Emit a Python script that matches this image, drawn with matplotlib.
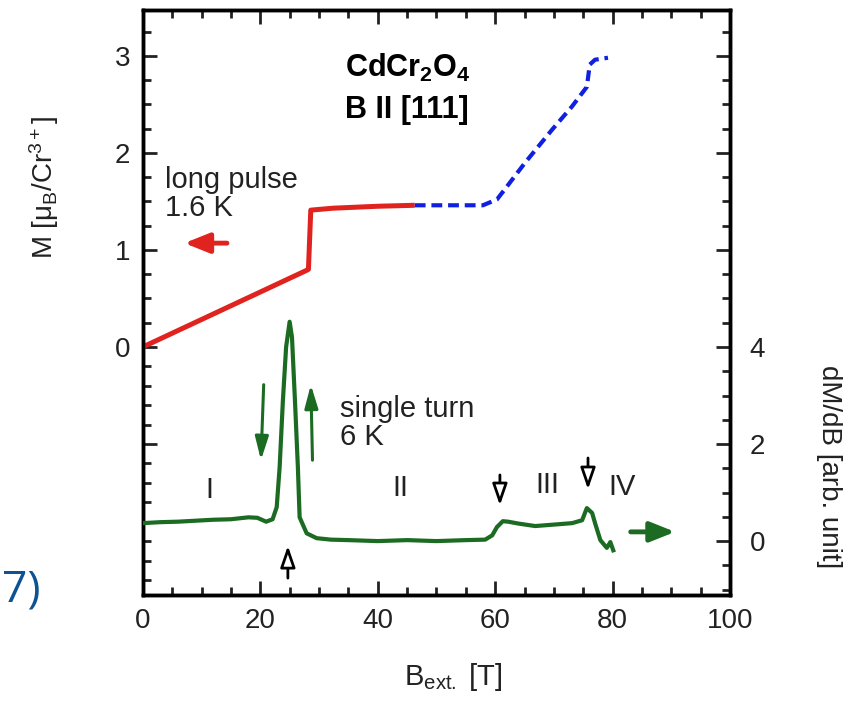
import matplotlib
matplotlib.use('Agg')
import matplotlib.pyplot as plt
from matplotlib.ticker import FixedLocator, FuncFormatter

plt.rcParams['font.family'] = ['Liberation Sans', 'DejaVu Sans']
plt.rcParams['mathtext.fontset'] = 'custom'
plt.rcParams['mathtext.rm'] = 'Liberation Sans'
plt.rcParams['mathtext.it'] = 'Liberation Sans:italic'
plt.rcParams['mathtext.bf'] = 'Liberation Sans:bold'
plt.rcParams['mathtext.default'] = 'regular'

# long pulse M(B), left axis
red_B = [0, 27.9, 28.2, 28.6, 32.4, 40, 46.3]
red_M = [0, 0.79, 0.80, 1.41, 1.43, 1.45, 1.46]

# extrapolated part (dashed)
blue_B = [46.3, 52, 57.9, 60.3, 61.7, 65.1, 69.7, 73.1, 75.6, 76.1, 77.0, 79.2]
blue_M = [1.46, 1.46, 1.46, 1.52, 1.63, 1.90, 2.24, 2.48, 2.68, 2.91, 2.96, 2.98]

# single turn dM/dB, right axis
green_B = [0, 3, 6, 9, 12, 15, 18, 19.5, 21, 22.1, 22.8, 23.3, 23.85, 24.4, 25.0,
           25.4, 25.9, 26.4, 26.7, 27.9, 29.6, 32, 35, 40, 45, 50, 55, 58.3, 59.5,
           60.3, 61.3, 62.2, 64, 66.8, 70, 73.1, 74.8, 75.6, 76.5, 77.0, 77.9, 79.0,
           79.6, 80.1]
green_R = [0.37, 0.39, 0.40, 0.42, 0.44, 0.45, 0.49, 0.48, 0.40, 0.45, 0.70, 1.53, 2.89,
           4.0, 4.52, 4.2, 2.91, 1.53, 0.49, 0.16, 0.06, 0.03, 0.02, 0.0, 0.02, 0.0,
           0.02, 0.03, 0.12, 0.29, 0.41, 0.40, 0.36, 0.31, 0.34, 0.37, 0.43, 0.68,
           0.58, 0.37, 0.02, -0.14, -0.02, -0.19]

x_major = [0, 20, 40, 60, 80, 100]
m_major = [-1, 0, 1, 2, 3]
m_minor = [-2.4, -2.2, -2.0, -1.8, -1.6, -1.4, -1.2, -0.8, -0.6, -0.4, -0.2,
           0.25, 0.5, 0.75, 1.25, 1.5, 1.75, 2.25, 2.5, 2.75, 3.25]
r_major = [0, 2, 4, 6, 8, 10]
r_minor = [-1, -0.5, 0.5, 1, 1.5, 2.5, 3, 3.5, 4.5, 5, 5.5, 6.5, 7, 7.5, 8.5, 9, 9.5, 10.5]

RED = '#e0231e'
BLUE = '#1020e0'
GREEN = '#1c6b22'
TXT = '#222222'

fig = plt.figure(figsize=(8.5, 7.01), dpi=100)
ax = fig.add_axes([0.168, 0.151, 0.691, 0.835])
ax2 = ax.twinx()

ax.plot(red_B, red_M, color=RED, lw=3.6, solid_capstyle='butt', zorder=3)
ax.plot(blue_B, blue_M, color=BLUE, lw=3.0, dashes=(2.6, 1.4), zorder=3)
ax2.plot(green_B, green_R, color=GREEN, lw=3.0, zorder=3)

ax.set_xlim(0, 100)
ax.set_ylim(-2.557, 3.474)
ax2.set_ylim(4 + 2 * -2.557, 4 + 2 * 3.474)

ax.xaxis.set_major_locator(FixedLocator(x_major))
ax.xaxis.set_minor_locator(FixedLocator(range(0, 101, 5)))
ax.yaxis.set_major_locator(FixedLocator(m_major))
ax.yaxis.set_minor_locator(FixedLocator(m_minor))
ax.yaxis.set_major_formatter(FuncFormatter(lambda v, p: '' if v < 0 else '%d' % v))
ax2.yaxis.set_major_locator(FixedLocator(r_major))
ax2.yaxis.set_minor_locator(FixedLocator(r_minor))
ax2.yaxis.set_major_formatter(FuncFormatter(lambda v, p: '' if v > 4 else '%d' % v))

ax.tick_params(which='both', direction='in', top=True, right=False, width=2,
               labelsize=20, colors=TXT)
ax.tick_params(which='major', length=10)
ax.tick_params(which='minor', length=5.5)
ax.tick_params(axis='x', pad=9)
ax.tick_params(axis='y', pad=9)
ax2.tick_params(which='both', direction='in', width=2, labelsize=20, colors=TXT, pad=14)
ax2.tick_params(which='major', length=10)
ax2.tick_params(which='minor', length=5.5)
for a in (ax, ax2):
    for s in a.spines.values():
        s.set_linewidth(2.5)

# axis labels
fig.text(453 / 850, 1 - 677 / 701, 'B$_{ext.}$ [T]', fontsize=21, color=TXT,
         ha='center', va='center')
fig.text(44 / 850, 1 - 188 / 701, 'M [μ$_B$/Cr$^{3+}$]', fontsize=20, color=TXT,
         ha='center', va='center', rotation=90)
fig.text(829 / 850, 1 - 467 / 701, 'dM/dB [arb. unit]', fontsize=20, color=TXT,
         ha='center', va='center', rotation=270)

# texts
ax.text(34.4, 2.88, r'$\mathbf{CdCr_2O_4}$', fontsize=22, va='center', ha='left')
ax.text(34.4, 2.44, 'B II [111]', fontsize=22, fontweight='bold', va='center', ha='left')
ax.text(3.75, 1.58, 'long pulse\n1.6 K', fontsize=21, va='center', ha='left',
        linespacing=1.0, color=TXT)
ax2.text(33.6, 2.43, 'single turn\n6 K', fontsize=21, va='center', ha='left',
         linespacing=1.0, color=TXT)
for lab, bx, ry in [('I', 11.4, 1.05), ('II', 43.8, 1.09), ('III', 68.8, 1.15), ('IV', 81.6, 1.11)]:
    ax2.text(bx, ry, lab, fontsize=21, ha='center', va='center', color=TXT)

# arrows
ax.annotate('', xy=(6.6, 1.07), xytext=(14.8, 1.07),
            arrowprops=dict(arrowstyle='-|>,head_length=1.5,head_width=0.6',
                            color=RED, lw=3.5))
ax2.annotate('', xy=(91.1, 0.19), xytext=(82.6, 0.19),
             arrowprops=dict(arrowstyle='-|>,head_length=1.5,head_width=0.6',
                             color=GREEN, lw=3.5))
ax2.annotate('', xy=(20.1, 1.61), xytext=(20.6, 3.28),
             arrowprops=dict(arrowstyle='-|>,head_length=1.4,head_width=0.4',
                             color=GREEN, lw=2.2))
ax2.annotate('', xy=(28.6, 3.28), xytext=(28.9, 1.61),
             arrowprops=dict(arrowstyle='-|>,head_length=1.4,head_width=0.4',
                             color=GREEN, lw=2.2))
for bx, y0, y1 in [(60.8, 1.42, 0.68), (75.8, 1.77, 1.01), (24.7, -0.82, -0.04)]:
    ax2.annotate('', xy=(bx, y1), xytext=(bx, y0),
                 arrowprops=dict(arrowstyle='-|>,head_length=1.3,head_width=0.45',
                                 fc='white', ec='black', lw=2))

fig.text(40 / 850, 0.158, '7)', fontsize=32, color='#0b5394', ha='right', va='center',
         family=['Open Sans', 'DejaVu Sans'])

fig.savefig('out.png', dpi=100)
